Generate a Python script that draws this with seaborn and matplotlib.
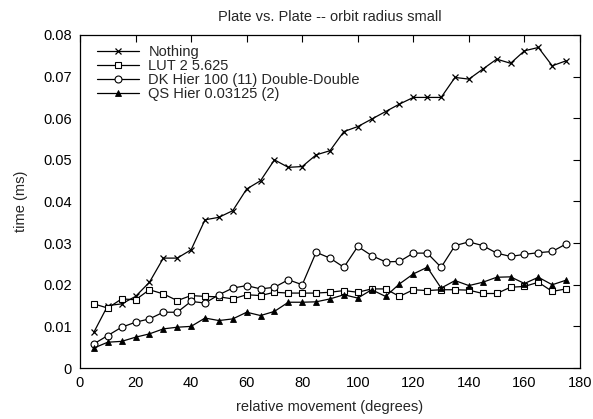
import matplotlib
matplotlib.use("Agg")
import matplotlib.pyplot as plt
import seaborn as sns
import pandas as pd

# relative movement in degrees
movement = [5, 10, 15, 20, 25, 30, 35, 40, 45, 50, 55, 60, 65, 70, 75, 80, 85, 90,
            95, 100, 105, 110, 115, 120, 125, 130, 135, 140, 145, 150, 155, 160,
            165, 170, 175]

# time (ms) per method
nothing = [0.0086, 0.0150, 0.0154, 0.0172, 0.0206, 0.0264, 0.0264, 0.0284, 0.0356,
           0.0362, 0.0378, 0.0430, 0.0450, 0.0500, 0.0482, 0.0484, 0.0512, 0.0522,
           0.0568, 0.0580, 0.0598, 0.0616, 0.0634, 0.0650, 0.0650, 0.0650, 0.0698,
           0.0694, 0.0718, 0.0742, 0.0732, 0.0762, 0.0770, 0.0726, 0.0738]
lut = [0.0154, 0.0144, 0.0166, 0.0164, 0.0188, 0.0178, 0.0162, 0.0174, 0.0172,
       0.0171, 0.0166, 0.0176, 0.0174, 0.0182, 0.0180, 0.0180, 0.0180, 0.0182,
       0.0186, 0.0182, 0.0190, 0.0190, 0.0172, 0.0188, 0.0186, 0.0188, 0.0188,
       0.0187, 0.0179, 0.0179, 0.0194, 0.0196, 0.0206, 0.0184, 0.0190]
dk_hier = [0.0058, 0.0078, 0.0098, 0.0110, 0.0118, 0.0134, 0.0134, 0.0160, 0.0156,
           0.0176, 0.0192, 0.0198, 0.0190, 0.0194, 0.0212, 0.0200, 0.0278, 0.0264,
           0.0242, 0.0292, 0.0270, 0.0255, 0.0256, 0.0276, 0.0276, 0.0242, 0.0294,
           0.0303, 0.0294, 0.0276, 0.0268, 0.0273, 0.0277, 0.0280, 0.0298]
qs_hier = [0.0048, 0.0062, 0.0064, 0.0074, 0.0082, 0.0094, 0.0098, 0.0100, 0.0120,
           0.0114, 0.0118, 0.0134, 0.0126, 0.0136, 0.0158, 0.0158, 0.0159, 0.0166,
           0.0176, 0.0168, 0.0188, 0.0172, 0.0202, 0.0226, 0.0242, 0.0192, 0.0210,
           0.0198, 0.0206, 0.0218, 0.0219, 0.0203, 0.0218, 0.0200, 0.0211]

labels = ["Nothing", "LUT 2 5.625", "DK Hier 100 (11) Double-Double",
          "QS Hier 0.03125 (2)"]
x_ticks = [0, 20, 40, 60, 80, 100, 120, 140, 160, 180]
y_ticks = [0, 0.01, 0.02, 0.03, 0.04, 0.05, 0.06, 0.07, 0.08]

sns.set_theme(style="white")
plt.rcParams["font.family"] = ["Liberation Sans", "DejaVu Sans"]
plt.rcParams["font.size"] = 10.5

fig = plt.figure(figsize=(5.93, 4.19), dpi=100)
ax = fig.add_axes([0.1349, 0.1217, 0.8432, 0.7948])

styles = [
    dict(marker="x", markersize=5, markeredgewidth=0.9),
    dict(marker="s", markersize=5, markerfacecolor="white", markeredgewidth=0.8),
    dict(marker="o", markersize=5, markerfacecolor="white", markeredgewidth=0.8),
    dict(marker="^", markersize=5, markerfacecolor="black", markeredgewidth=0.6),
]

for series, label, st in zip([nothing, lut, dk_hier, qs_hier], labels, styles):
    df = pd.DataFrame({"movement": movement, "time": series})
    sns.lineplot(data=df, x="movement", y="time", ax=ax, color="black",
                 linewidth=0.9, markeredgecolor="black", label=label, **st)

ax.set_xlim(0, 180)
ax.set_ylim(0, 0.08)
ax.set_xticks(x_ticks)
ax.set_xticklabels([str(v) for v in x_ticks])
ax.set_yticks(y_ticks)
ax.set_yticklabels(["0"] + [f"{v:.2f}" for v in y_ticks[1:]])
ax.tick_params(direction="in", length=5, width=0.8, top=True, right=True,
               labelsize=10.5, colors="black", pad=6)
for sp in ax.spines.values():
    sp.set_color("black")
    sp.set_linewidth(0.9)

ax.set_xlabel("relative movement (degrees)", fontsize=10.5, labelpad=7)
ax.set_ylabel("time (ms)", fontsize=10.5, labelpad=11)
ax.set_title("Plate vs. Plate -- orbit radius small", fontsize=10.5, pad=10)

ax.legend(loc="upper left", frameon=False, numpoints=1, handlelength=2.92,
          handletextpad=0.62, labelspacing=0.0, borderaxespad=0.3,
          fontsize=10.5, bbox_to_anchor=(0.013, 1.0))

fig.savefig("out.png", dpi=100)
